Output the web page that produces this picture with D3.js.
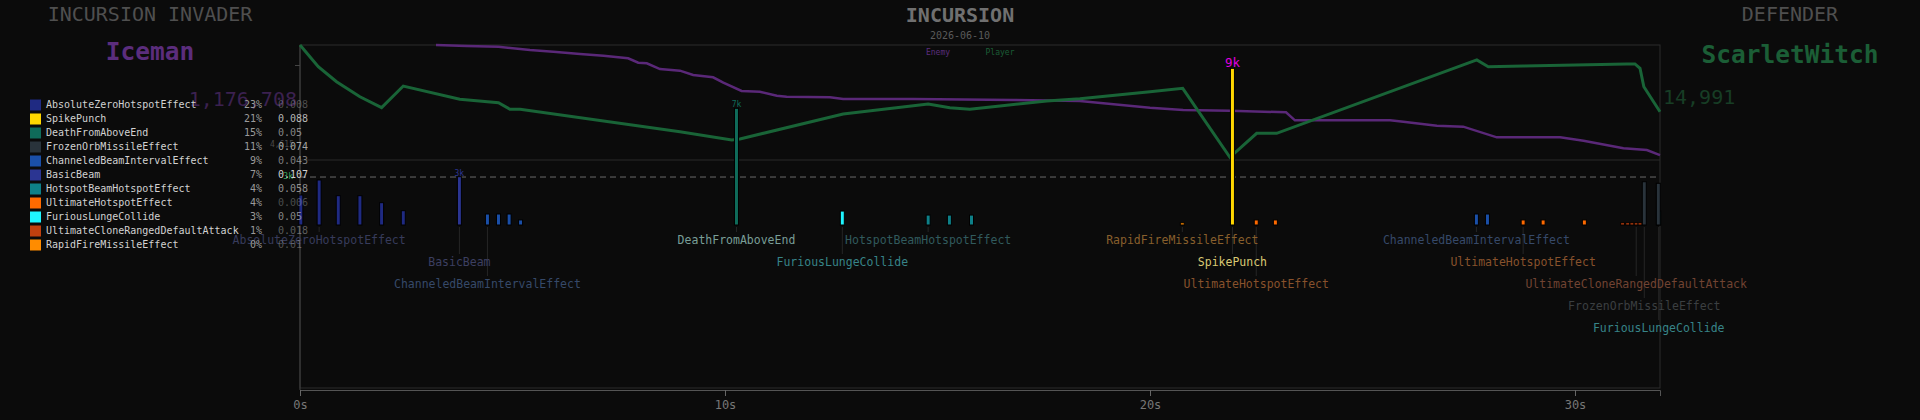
<!DOCTYPE html>
<html>
<head>
<meta charset="utf-8">
<script src="https://cdn.jsdelivr.net/npm/d3@7"></script>
<style>
  html, body { margin: 0; padding: 0; background: #0b0b0b; }
  svg { display: block; font-family: "DejaVu Sans Mono", monospace; }
</style>
</head>
<body>
<div id="chart"></div>
<script>
// abilities (legend order)
const abilities = [
  "AbsoluteZeroHotspotEffect", "SpikePunch", "DeathFromAboveEnd", "FrozenOrbMissileEffect",
  "ChanneledBeamIntervalEffect", "BasicBeam", "HotspotBeamHotspotEffect", "UltimateHotspotEffect",
  "FuriousLungeCollide", "UltimateCloneRangedDefaultAttack", "RapidFireMissileEffect"
];
const abilityColors = [
  "#1f2a82", "#ffd700", "#0f6b5a", "#29333b", "#1a4fa8", "#2b3592",
  "#0e8088", "#ff6a00", "#1ff5ff", "#c0400f", "#ff8c00"
];
const abilityShare = [23, 21, 15, 11, 9, 7, 4, 4, 3, 1, 0];
const abilityRate = [0.008, 0.088, 0.05, 0.074, 0.043, 0.107, 0.058, 0.006, 0.05, 0.018, 0.01];

// health over time, percent of max
const playerTime = [0, 0.43, 0.86, 1.41, 1.92, 2.43, 3.76, 4.67, 4.94, 5.18, 8.94, 10.16, 10.35,
  12.78, 14.78, 15.29, 15.76, 16.47, 17.57, 18.35, 20.0, 20.77, 21.88, 22.51, 22.98, 27.69,
  27.96, 28.78, 31.21, 31.41, 31.53, 31.62, 32.0];
const playerHp = [100, 81.1, 68.1, 55.0, 45.5, 64.3, 52.8, 49.8, 44.1, 44.1, 24.6, 17.4, 18.3,
  40.0, 48.7, 45.5, 44.1, 47.0, 51.3, 53.3, 59.4, 62.3, 2.3, 23.2, 23.2, 87.0,
  81.1, 81.7, 83.5, 83.5, 79.7, 63.7, 42.0];
const enemyTime = [3.2, 3.92, 4.67, 5.41, 5.96, 6.59, 7.14, 7.72, 7.96, 8.16, 8.47, 8.94, 9.25,
  9.72, 9.96, 10.39, 10.82, 11.22, 11.45, 12.47, 12.78, 14.43, 16.78, 18.35, 20.0, 20.78,
  21.88, 22.67, 23.2, 23.41, 25.65, 25.96, 26.75, 27.37, 28.16, 29.65, 30.2, 31.14, 31.69, 32.0];
const enemyHp = [100, 99.1, 98.5, 95.7, 94.2, 92.2, 90.7, 88.4, 84.6, 84.1, 79.1, 77.7, 73.9,
  71.9, 67.2, 60.0, 59.4, 55.9, 55.0, 54.5, 53.0, 53.0, 52.2, 51.3, 45.5, 43.5,
  42.9, 42.0, 41.5, 34.5, 34.5, 33.3, 29.8, 29.0, 19.7, 19.7, 16.8, 10.2, 8.7, 4.3];

// individual hits
const hitTime = [0.02, 0.45, 0.90, 1.41, 1.92, 2.43, 3.75, 4.41, 4.67, 4.92, 5.19, 10.27, 12.76,
  14.78, 15.28, 15.80, 20.76, 21.94, 22.50, 22.95, 27.68, 27.94, 28.78, 29.25, 30.22,
  31.12, 31.24, 31.34, 31.44, 31.53, 31.63, 31.97, 31.96];
const hitAbility = [0, 0, 0, 0, 0, 0, 5, 4, 4, 4, 4, 2, 8,
  6, 6, 6, 10, 1, 7, 7, 4, 4, 7, 7, 7,
  9, 9, 9, 9, 9, 3, 8, 3];
const hitDamage = [1720, 2580, 1680, 1680, 1280, 820, 2770, 630, 630, 630, 290, 6690, 800,
  570, 570, 570, 130, 8980, 290, 290, 630, 630, 290, 290, 290,
  130, 130, 130, 130, 130, 2480, 800, 2390];
const bigHitLevel = 2750;

// ability name labels under the bars
const noteAbility = [0, 5, 4, 2, 8, 6, 10, 1, 7, 4, 7, 9, 3, 8];
const noteTime = [0.45, 3.75, 4.41, 10.27, 12.76, 14.78, 20.76, 21.94, 22.50, 27.68, 28.78, 31.44, 31.63, 31.97];
const noteRow = [0, 1, 2, 0, 1, 0, 0, 1, 2, 0, 1, 2, 3, 4];

const W = 1920, H = 420;
const plotL = 300, plotR = 1660, plotT = 45, plotB = 388;

const svg = d3.select("#chart").append("svg")
  .attr("width", W).attr("height", H)
  .attr("viewBox", [0, 0, W, H]);

const x = d3.scaleLinear().domain([0, 32]).range([plotL, plotR]);
const yHp = d3.scaleLinear().domain([0, 100]).range([160, plotT]);
const yDmg = d3.scaleLinear().domain([0, 9000]).range([225, 68]);
const fmtK = d3.format(".1s");

// headers
function txt(tx, ty, s, size, fill, opts = {}) {
  return svg.append("text")
    .attr("x", tx).attr("y", ty)
    .attr("text-anchor", opts.anchor || "middle")
    .attr("dominant-baseline", "middle")
    .attr("font-size", size)
    .attr("font-weight", opts.bold ? "bold" : "normal")
    .attr("fill", fill)
    .text(s);
}
txt(150, 15, "INCURSION INVADER", 20, "#4f4f4f");
txt(150, 53, "Iceman", 24.5, "#5b2d7d", {bold: true});
txt(960, 16, "INCURSION", 20, "#707070", {bold: true});
txt(960, 36, "2026-06-10", 10, "#5a5a5a");
txt(938, 52, "Enemy", 8, "#5b2d7d");
txt(1000, 52, "Player", 8, "#1b5e36");
txt(1790, 15, "DEFENDER", 20, "#4f4f4f");
txt(1790, 56, "ScarletWitch", 24.5, "#1b5e36", {bold: true});

// frame
svg.append("rect")
  .attr("x", plotL).attr("y", plotT)
  .attr("width", plotR - plotL).attr("height", plotB - plotT)
  .attr("fill", "none").attr("stroke", "#2c2c2c");
svg.append("line")
  .attr("x1", plotL).attr("x2", plotR)
  .attr("y1", yHp(0)).attr("y2", yHp(0))
  .attr("stroke", "#2a2a2a");
svg.append("line")
  .attr("x1", plotL).attr("x2", plotR)
  .attr("y1", yDmg(bigHitLevel)).attr("y2", yDmg(bigHitLevel))
  .attr("stroke", "#6a6a6a").attr("stroke-dasharray", "6,4");

// left axis
const ax = svg.append("g")
  .attr("transform", `translate(${plotL},0)`)
  .call(d3.axisLeft(yHp).tickValues([82.6]).tickFormat("").tickSize(5));
ax.select(".domain").attr("stroke", "#444").attr("d", `M0,${plotT}V${plotB + 2}`);
ax.selectAll(".tick line").attr("stroke", "#444");

// bottom axis
const bx = svg.append("g")
  .attr("transform", `translate(0,${plotB + 2})`)
  .call(d3.axisBottom(x).tickValues([0, 10, 20, 30]).tickFormat(d => d + "s").tickSize(6).tickPadding(4));
bx.select(".domain").attr("stroke", "#555");
bx.selectAll(".tick line").attr("stroke", "#666");
bx.selectAll(".tick text").attr("fill", "#777").attr("font-size", 12)
  .attr("font-family", "DejaVu Sans Mono, monospace");

// leader lines and labels
const rowY = r => 240 + 22 * r;
function noteColor(i) {
  const a = noteAbility[i];
  const maxHit = d3.max(hitDamage.filter((d, j) => hitAbility[j] === a));
  if (maxHit >= 5000) return d3.interpolateRgb(abilityColors[a], "#c0c0c0")(0.6);
  return d3.interpolateRgb(abilityColors[a], "#454545")(0.64);
}
svg.append("g").selectAll("line")
  .data(d3.range(noteTime.length))
  .join("line")
  .attr("x1", i => x(noteTime[i])).attr("x2", i => x(noteTime[i]))
  .attr("y1", yDmg(0) + 2).attr("y2", i => rowY(noteRow[i]) - 8)
  .attr("stroke", "#262626");
svg.append("g").selectAll("text")
  .data(d3.range(noteTime.length))
  .join("text")
  .attr("x", i => x(noteTime[i]))
  .attr("y", i => rowY(noteRow[i]))
  .attr("text-anchor", "middle")
  .attr("dominant-baseline", "middle")
  .attr("font-size", 11.5)
  .attr("fill", i => noteColor(i))
  .text(i => abilities[noteAbility[i]]);

// health lines
const hpLine = d3.line().x(d => x(d[0])).y(d => yHp(d[1]));
svg.append("path")
  .attr("d", hpLine(enemyTime.map((t, i) => [t, enemyHp[i]])))
  .attr("fill", "none").attr("stroke", "#5a2878").attr("stroke-width", 2.5);
svg.append("path")
  .attr("d", hpLine(playerTime.map((t, i) => [t, playerHp[i]])))
  .attr("fill", "none").attr("stroke", "#196437").attr("stroke-width", 3);

// hit bars
svg.append("g").selectAll("rect")
  .data(d3.range(hitTime.length))
  .join("rect")
  .attr("x", i => x(hitTime[i]) - 2)
  .attr("width", 4)
  .attr("y", i => yDmg(hitDamage[i]))
  .attr("height", i => yDmg(0) - yDmg(hitDamage[i]))
  .attr("fill", i => abilityColors[hitAbility[i]])
  .attr("stroke", "#000").attr("stroke-width", 1);

const maxDmg = d3.max(hitDamage);
svg.append("g").selectAll("text")
  .data(d3.range(hitTime.length).filter(i => hitDamage[i] >= bigHitLevel))
  .join("text")
  .attr("x", i => x(hitTime[i]))
  .attr("y", i => yDmg(hitDamage[i]) - 1)
  .attr("text-anchor", "middle")
  .attr("font-size", i => hitDamage[i] === maxDmg ? 12.5 : 8)
  .attr("fill", i => hitDamage[i] === maxDmg ? "#e000e0" : abilityColors[hitAbility[i]])
  .text(i => fmtK(hitDamage[i]));

// end values
txt(297, 100, "1,176,708", 20, "#3b2150", {anchor: "end"});
txt(1663, 98, "14,991", 20, "#173d25", {anchor: "start"});

// small axis notes
txt(294, 144, "4,615", 8, "#4a4a4a", {anchor: "end"});
txt(293, yDmg(bigHitLevel) - 1, fmtK(bigHitLevel), 8, "#3aa35a", {anchor: "end"});

// legend
const lg = svg.append("g");
const rate = d3.scaleLinear().domain([0, d3.max(abilityRate)]).range([0.3, 1]);
abilities.forEach((name, i) => {
  const ly = 105 + 14 * i;
  lg.append("rect")
    .attr("x", 30).attr("y", ly - 5.5)
    .attr("width", 11).attr("height", 11)
    .attr("fill", abilityColors[i]);
  lg.append("text")
    .attr("x", 46).attr("y", ly)
    .attr("dominant-baseline", "middle")
    .attr("font-size", 10).attr("fill", "#d2d2d2")
    .text(name);
  lg.append("text")
    .attr("x", 262).attr("y", ly)
    .attr("text-anchor", "end")
    .attr("dominant-baseline", "middle")
    .attr("font-size", 10).attr("fill", "#9a9a9a")
    .text(abilityShare[i] + "%");
  lg.append("text")
    .attr("x", 278).attr("y", ly)
    .attr("dominant-baseline", "middle")
    .attr("font-size", 10).attr("fill", "#d0d0d0")
    .attr("fill-opacity", rate(abilityRate[i]))
    .text(abilityRate[i]);
});
</script>
</body>
</html>
